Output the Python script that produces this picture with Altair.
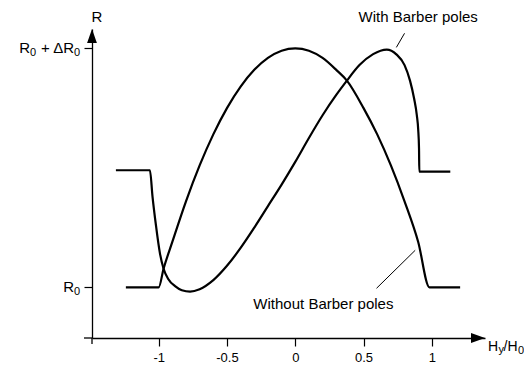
import altair as alt
import pandas as pd

# ---- data (R normalised: 0 = R0, 1 = R0 + dR0; x = Hy/H0) ----
without_x = [-1.24, -1.0, -0.964, -0.9, -0.8, -0.7, -0.6, -0.5, -0.4, -0.3, -0.2, -0.1, 0.0,
             0.1, 0.2, 0.3, 0.378, 0.5, 0.6, 0.7, 0.8, 0.9, 0.982, 1.207]
without_y = [0.0, 0.0, 0.078, 0.19, 0.36, 0.51, 0.64, 0.75, 0.84, 0.91, 0.96, 0.99, 1.0,
             0.99, 0.96, 0.91, 0.865, 0.75, 0.64, 0.51, 0.36, 0.19, 0.0, 0.0]

with_x = [-1.313, -1.064, -1.045, -1.02, -0.99, -0.964, -0.93, -0.88, -0.83, -0.77, -0.7, -0.6,
          -0.5, -0.4, -0.3, -0.2, -0.1, 0.0, 0.1, 0.2, 0.3, 0.378, 0.47, 0.57, 0.67, 0.74, 0.80,
          0.84, 0.87, 0.89, 0.90, 0.906, 0.908, 1.135]
with_y = [0.49, 0.49, 0.38, 0.26, 0.14, 0.078, 0.035, 0.005, -0.012, -0.018, -0.008, 0.03,
          0.09, 0.165, 0.25, 0.34, 0.43, 0.525, 0.625, 0.72, 0.805, 0.865, 0.93, 0.976, 0.995,
          0.975, 0.93, 0.865, 0.79, 0.72, 0.66, 0.58, 0.484, 0.484]

x_ticks = [-1, -0.5, 0, 0.5, 1]
y_ticks = [0, 1]
x_domain = [-1.488, 1.389]
y_domain = [-0.212, 1.081]

FONT = "Liberation Sans"

df = pd.concat([
    pd.DataFrame({"h": without_x, "r": without_y, "curve": "Without Barber poles"}),
    pd.DataFrame({"h": with_x, "r": with_y, "curve": "With Barber poles"}),
])

xs = alt.Scale(domain=x_domain, nice=False, zero=False)
ys = alt.Scale(domain=y_domain, nice=False, zero=False)

x_axis = alt.Axis(values=x_ticks, labelExpr="'' + datum.value", title=None, grid=False,
                  domainColor="black", domainWidth=1.3, tickColor="black", tickWidth=1.2,
                  tickSize=8, labelPadding=5, labelFont=FONT, labelFontSize=13,
                  labelColor="black")
y_axis = alt.Axis(values=y_ticks, labels=False, title=None,
                  grid=False, domainColor="black", domainWidth=1.3, tickColor="black",
                  tickWidth=1.2, tickSize=8)

lines = alt.Chart(df).mark_line(color="black", strokeWidth=2.2, interpolate="monotone").encode(
    x=alt.X("h:Q", scale=xs, axis=x_axis),
    y=alt.Y("r:Q", scale=ys, axis=y_axis),
    detail="curve:N",
)

arrow_df = pd.DataFrame({
    "h": [x_domain[0], x_domain[1]],
    "r": [y_domain[1], y_domain[0]],
    "shp": ["M0,0L0.7,2L-0.7,2Z", "M0,0L-2,-0.7L-2,0.7Z"],
})
arrows = alt.Chart(arrow_df).mark_point(filled=True, color="black", size=196, opacity=1,
                                        strokeWidth=0).encode(
    x=alt.X("h:Q", scale=xs), y=alt.Y("r:Q", scale=ys),
    shape=alt.Shape("shp:N", scale=None),
)

# small axis overshoots (x axis starts left of y axis, y axis runs below x axis)
ext_x = alt.Chart(pd.DataFrame({"a": [0]})).mark_rule(color="black", strokeWidth=1.3).encode(
    x=alt.value(-8), x2=alt.value(0), y=alt.value(309))
ext_y = alt.Chart(pd.DataFrame({"a": [0]})).mark_rule(color="black", strokeWidth=1.3).encode(
    x=alt.value(0), y=alt.value(309), y2=alt.value(315))

leader_df = pd.DataFrame({
    "h": [0.80, 0.595], "r": [1.063, -0.004],
    "h2": [0.74, 0.878], "r2": [1.004, 0.155],
})
leaders = alt.Chart(leader_df).mark_rule(color="black", strokeWidth=1).encode(
    x=alt.X("h:Q", scale=xs), y=alt.Y("r:Q", scale=ys), x2="h2:Q", y2="r2:Q",
)

ann_df = pd.DataFrame({
    "h": [0.90, 0.206], "r": [1.131, -0.07],
    "txt": ["With Barber poles", "Without Barber poles"],
})
anns = alt.Chart(ann_df).mark_text(font=FONT, fontSize=15, color="black").encode(
    x=alt.X("h:Q", scale=xs), y=alt.Y("r:Q", scale=ys), text="txt:N",
)


def piece(h, r, t, size, dx, dy, align="left", baseline="middle"):
    return alt.Chart(pd.DataFrame({"h": [h], "r": [r], "t": [t]})).mark_text(
        font=FONT, fontSize=size, dx=dx, dy=dy, align=align, baseline=baseline,
        color="black").encode(
        x=alt.X("h:Q", scale=xs), y=alt.Y("r:Q", scale=ys), text="t:N")


x0, x1 = x_domain
y0, y1 = y_domain
texts = [
    # y axis title
    piece(x0, y1, "R", 15, 5, -12, align="center"),
    # R0 label
    piece(x0, y_ticks[0], "R", 15, -18, 0, align="right"),
    piece(x0, y_ticks[0], "0", 11, -12, 5, align="right"),
    # R0 + dR0 label
    piece(x0, y_ticks[1], "R", 15, -62, 0, align="right"),
    piece(x0, y_ticks[1], "0", 11, -56, 5, align="right"),
    piece(x0, y_ticks[1], " + ΔR", 15, -18, 0, align="right"),
    piece(x0, y_ticks[1], "0", 11, -12, 5, align="right"),
    # Hy/H0
    piece(x1, y0, "H", 14, 3, 13, baseline="alphabetic"),
    piece(x1, y0, "y", 11, 13.5, 15, baseline="alphabetic"),
    piece(x1, y0, "/H", 14, 18.5, 13, baseline="alphabetic"),
    piece(x1, y0, "0", 11, 33, 16, baseline="alphabetic"),
]

chart = alt.layer(lines, ext_x, ext_y, leaders, arrows, anns, *texts).properties(
    width=393, height=309,
    padding={"left": 84, "top": 21, "right": 39, "bottom": 25},
    autosize=alt.AutoSizeParams(type="none"),
    background="white",
).configure_view(stroke=None)

chart.save("out.html", embed_options={"renderer": "svg", "actions": False})
